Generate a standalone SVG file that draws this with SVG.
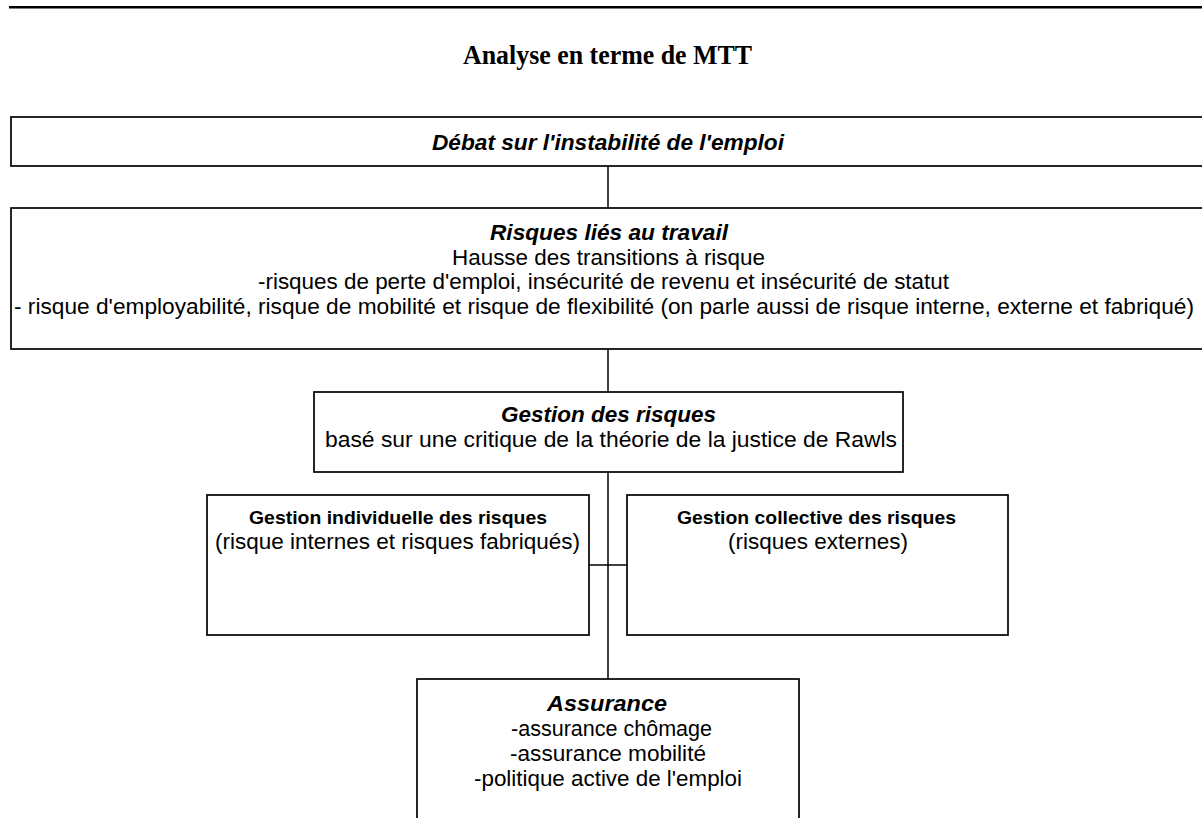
<svg xmlns="http://www.w3.org/2000/svg" width="1202" height="818" viewBox="0 0 1202 818">
<style>
.box{fill:#fff;stroke:#000;stroke-width:1.7}
.conn{stroke:#000;stroke-width:1.5;fill:none}
.t{font-family:"Liberation Sans",Arial,sans-serif;font-size:22px;fill:#000;text-anchor:middle}
.h{font-weight:bold;font-style:italic}
.b{font-weight:bold;font-size:19px}
.title{font-family:"Liberation Serif","Times New Roman",serif;font-size:27px;font-weight:bold;fill:#000;text-anchor:middle}
</style>
<rect width="1202" height="818" fill="#fff"/>
<line x1="9" y1="7.2" x2="1202" y2="7.2" stroke="#000" stroke-width="2.5"/>
<text class="title" x="607.5" y="64" textLength="289" lengthAdjust="spacingAndGlyphs">Analyse en terme de MTT</text>
<g id="connectors">
<line class="conn" x1="608" y1="166" x2="608" y2="208"/>
<line class="conn" x1="608" y1="349" x2="608" y2="392"/>
<line class="conn" x1="608" y1="472" x2="608" y2="679"/>
<line class="conn" x1="589" y1="565" x2="627" y2="565"/>
</g>
<g id="debat">
<rect class="box" x="11" y="117" width="1200" height="49"/>
<text class="t h" x="608" y="150" textLength="352" lengthAdjust="spacingAndGlyphs">Débat sur l'instabilité de l'emploi</text>
</g>
<g id="risques">
<rect class="box" x="11" y="208" width="1200" height="141"/>
<text class="t h" x="609" y="240" textLength="238" lengthAdjust="spacingAndGlyphs">Risques liés au travail</text>
<text class="t" x="608.5" y="264.5" textLength="313" lengthAdjust="spacingAndGlyphs">Hausse des transitions à risque</text>
<text class="t" x="603.5" y="289" textLength="691" lengthAdjust="spacingAndGlyphs">-risques de perte d'emploi, insécurité de revenu et insécurité de statut</text>
<text class="t" x="604" y="313.5" font-size="21.5" textLength="1180" lengthAdjust="spacingAndGlyphs">- risque d'employabilité, risque de mobilité et risque de flexibilité (on parle aussi de risque interne, externe et fabriqué)</text>
</g>
<g id="gestion">
<rect class="box" x="314" y="392" width="589" height="80"/>
<text class="t h" x="608.5" y="422" textLength="215" lengthAdjust="spacingAndGlyphs">Gestion des risques</text>
<text class="t" x="611" y="446.5" textLength="572" lengthAdjust="spacingAndGlyphs">basé sur une critique de la théorie de la justice de Rawls</text>
</g>
<g id="individuelle">
<rect class="box" x="207" y="495" width="382" height="140"/>
<text class="t b" x="398" y="524" textLength="298" lengthAdjust="spacingAndGlyphs">Gestion individuelle des risques</text>
<text class="t" x="397.5" y="549" textLength="365" lengthAdjust="spacingAndGlyphs">(risque internes et risques fabriqués)</text>
</g>
<g id="collective">
<rect class="box" x="627" y="495" width="381" height="140"/>
<text class="t b" x="816.5" y="524" textLength="279" lengthAdjust="spacingAndGlyphs">Gestion collective des risques</text>
<text class="t" x="818" y="549" textLength="180" lengthAdjust="spacingAndGlyphs">(risques externes)</text>
</g>
<g id="assurance">
<rect class="box" x="417" y="679" width="382" height="160"/>
<text class="t h" x="607" y="711" textLength="120" lengthAdjust="spacingAndGlyphs">Assurance</text>
<text class="t" x="611.5" y="736" textLength="201" lengthAdjust="spacingAndGlyphs">-assurance chômage</text>
<text class="t" x="608" y="761" textLength="196" lengthAdjust="spacingAndGlyphs">-assurance mobilité</text>
<text class="t" x="608" y="786" textLength="268" lengthAdjust="spacingAndGlyphs">-politique active de l'emploi</text>
</g>
</svg>
